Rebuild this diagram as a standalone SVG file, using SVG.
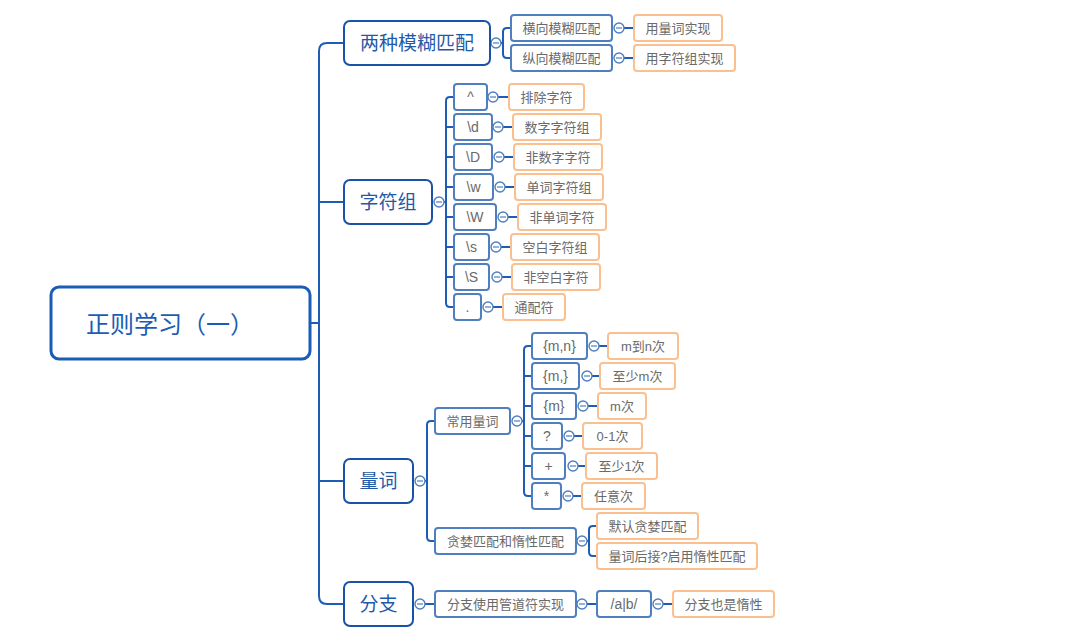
<svg xmlns="http://www.w3.org/2000/svg" width="1068" height="641" viewBox="0 0 1068 641">
<style>
text{font-family:"Liberation Sans","Noto Sans CJK SC",sans-serif;text-anchor:middle;dominant-baseline:central}
.root rect{fill:#fff;stroke:#1a5db5;stroke-width:3}
.root text{font-size:24px;fill:#1a5db5;text-anchor:start}
.l1 rect{fill:#fff;stroke:#1a52a8;stroke-width:2}
.l1 text{font-size:19px;fill:#1f5aa8}
.l2 rect{fill:#fff;stroke:#4f7fbf;stroke-width:2}
.l2 text{font-size:13px;fill:#6a6a6a}
.l2 text.lat{font-size:14px}
.or rect{fill:#fff;stroke:#fbc08f;stroke-width:2}
.or text{font-size:13px;fill:#6a6a6a}
.con path{fill:none;stroke:#1e5db5;stroke-width:2}
</style>
<defs>
<g id="col"><circle r="5" fill="#fff" stroke="#4f7fbf" stroke-width="1.4"/><path d="M-3 0H3" stroke="#4f7fbf" stroke-width="1.2"/></g>
</defs>
<rect width="1068" height="641" fill="#fff"/>
<g class="con">
<path d="M310 323H319"/>
<path d="M344 43H327Q319 43 319 51V596Q319 604 327 604H344"/>
<path d="M319 202H344M319 481H344"/>
<path d="M501 43H503M511 28H507Q503 28 503 32V54Q503 58 507 58H511"/>
<path d="M624 28H634M624 58H634"/>
<path d="M444 202H446M454 97H450Q446 97 446 101V303Q446 307 450 307H454M446 127H454M446 157H454M446 187H454M446 217H454M446 247H454M446 277H454"/>
<path d="M498 97H509M503 127H513M504 157H514M505 187H515M508 217H518M501 247H511M502 277H512M493 307H503"/>
<path d="M425 481H427M435 421H431Q427 421 427 425V537Q427 541 431 541H435"/>
<path d="M522 421H524M532 346H528Q524 346 524 350V492Q524 496 528 496H532M524 376H532M524 406H532M524 436H532M524 466H532"/>
<path d="M599 346H608M592 376H600M588 406H598M574 436H583M578 466H586M573 496H582"/>
<path d="M587 541H589M597 526H593Q589 526 589 530V552Q589 556 593 556H597"/>
<path d="M425 604H435M587 604H597M663 604H673"/>
</g>
<g id="collapse-markers">
<use href="#col" x="496" y="43"/>
<use href="#col" x="619" y="28"/><use href="#col" x="619" y="58"/>
<use href="#col" x="439" y="202"/>
<use href="#col" x="493" y="97"/><use href="#col" x="498" y="127"/><use href="#col" x="499" y="157"/><use href="#col" x="500" y="187"/><use href="#col" x="503" y="217"/><use href="#col" x="496" y="247"/><use href="#col" x="497" y="277"/><use href="#col" x="488" y="307"/>
<use href="#col" x="420" y="481"/>
<use href="#col" x="517" y="421"/>
<use href="#col" x="594" y="346"/><use href="#col" x="587" y="376"/><use href="#col" x="583" y="406"/><use href="#col" x="569" y="436"/><use href="#col" x="573" y="466"/><use href="#col" x="568" y="496"/>
<use href="#col" x="582" y="541"/>
<use href="#col" x="420" y="604"/><use href="#col" x="582" y="604"/><use href="#col" x="658" y="604"/>
</g>
<g id="root" class="root"><rect x="51" y="287" width="259" height="72" rx="8"/><text x="86" y="324">正则学习（一）</text></g>
<g id="n-fuzzy" class="l1"><rect x="344" y="21" width="146" height="44" rx="6"/><text x="417" y="43">两种模糊匹配</text></g>
<g id="n-charset" class="l1"><rect x="344" y="180" width="88" height="44" rx="6"/><text x="388" y="202">字符组</text></g>
<g id="n-quant" class="l1"><rect x="344" y="459" width="69" height="44" rx="6"/><text x="378.5" y="481">量词</text></g>
<g id="n-branch" class="l1"><rect x="344" y="582" width="69" height="44" rx="6"/><text x="378.5" y="604">分支</text></g>

<g id="n-h" class="l2"><rect x="511" y="15" width="101" height="26" rx="3"/><text x="561.5" y="28">横向模糊匹配</text></g>
<g id="n-v" class="l2"><rect x="511" y="45" width="101" height="26" rx="3"/><text x="561.5" y="58">纵向模糊匹配</text></g>
<g id="o-h" class="or"><rect x="634" y="15" width="88" height="26" rx="3"/><text x="678" y="28">用量词实现</text></g>
<g id="o-v" class="or"><rect x="634" y="45" width="101" height="26" rx="3"/><text x="684.5" y="58">用字符组实现</text></g>

<g id="c1" class="l2"><rect x="454" y="84" width="33" height="26" rx="3"/><text class="lat" x="470.5" y="97">^</text></g>
<g id="c2" class="l2"><rect x="454" y="114" width="38" height="26" rx="3"/><text class="lat" x="473" y="127">\d</text></g>
<g id="c3" class="l2"><rect x="454" y="144" width="38" height="26" rx="3"/><text class="lat" x="473" y="157">\D</text></g>
<g id="c4" class="l2"><rect x="454" y="174" width="39" height="26" rx="3"/><text class="lat" x="473.5" y="187">\w</text></g>
<g id="c5" class="l2"><rect x="454" y="204" width="42" height="26" rx="3"/><text class="lat" x="475" y="217">\W</text></g>
<g id="c6" class="l2"><rect x="454" y="234" width="35" height="26" rx="3"/><text class="lat" x="471.5" y="247">\s</text></g>
<g id="c7" class="l2"><rect x="454" y="264" width="35" height="26" rx="3"/><text class="lat" x="471.5" y="277">\S</text></g>
<g id="c8" class="l2"><rect x="454" y="294" width="27" height="26" rx="3"/><text class="lat" x="467.5" y="307">.</text></g>
<g id="co1" class="or"><rect x="509" y="84" width="75" height="26" rx="3"/><text x="546.5" y="97">排除字符</text></g>
<g id="co2" class="or"><rect x="513" y="114" width="88" height="26" rx="3"/><text x="557" y="127">数字字符组</text></g>
<g id="co3" class="or"><rect x="514" y="144" width="88" height="26" rx="3"/><text x="558" y="157">非数字字符</text></g>
<g id="co4" class="or"><rect x="515" y="174" width="88" height="26" rx="3"/><text x="559" y="187">单词字符组</text></g>
<g id="co5" class="or"><rect x="518" y="204" width="88" height="26" rx="3"/><text x="562" y="217">非单词字符</text></g>
<g id="co6" class="or"><rect x="511" y="234" width="88" height="26" rx="3"/><text x="555" y="247">空白字符组</text></g>
<g id="co7" class="or"><rect x="512" y="264" width="88" height="26" rx="3"/><text x="556" y="277">非空白字符</text></g>
<g id="co8" class="or"><rect x="503" y="294" width="62" height="26" rx="3"/><text x="534" y="307">通配符</text></g>

<g id="q-common" class="l2"><rect x="435" y="408" width="75" height="26" rx="3"/><text x="472.5" y="421">常用量词</text></g>
<g id="q1" class="l2"><rect x="532" y="333" width="55" height="26" rx="3"/><text class="lat" x="559.5" y="346">{m,n}</text></g>
<g id="q2" class="l2"><rect x="532" y="363" width="47" height="26" rx="3"/><text class="lat" x="555.5" y="376">{m,}</text></g>
<g id="q3" class="l2"><rect x="532" y="393" width="44" height="26" rx="3"/><text class="lat" x="554" y="406">{m}</text></g>
<g id="q4" class="l2"><rect x="532" y="423" width="30" height="26" rx="3"/><text class="lat" x="547" y="436">?</text></g>
<g id="q5" class="l2"><rect x="532" y="453" width="33" height="26" rx="3"/><text class="lat" x="548.5" y="466">+</text></g>
<g id="q6" class="l2"><rect x="532" y="483" width="29" height="26" rx="3"/><text class="lat" x="546.5" y="496">*</text></g>
<g id="qo1" class="or"><rect x="608" y="333" width="70" height="26" rx="3"/><text x="643" y="346">m到n次</text></g>
<g id="qo2" class="or"><rect x="600" y="363" width="75" height="26" rx="3"/><text x="637.5" y="376">至少m次</text></g>
<g id="qo3" class="or"><rect x="598" y="393" width="48" height="26" rx="3"/><text x="622" y="406">m次</text></g>
<g id="qo4" class="or"><rect x="583" y="423" width="59" height="26" rx="3"/><text x="612.5" y="436">0-1次</text></g>
<g id="qo5" class="or"><rect x="586" y="453" width="71" height="26" rx="3"/><text x="621.5" y="466">至少1次</text></g>
<g id="qo6" class="or"><rect x="582" y="483" width="63" height="26" rx="3"/><text x="613.5" y="496">任意次</text></g>
<g id="q-greedy" class="l2"><rect x="435" y="528" width="141" height="26" rx="3"/><text x="505.5" y="541">贪婪匹配和惰性匹配</text></g>
<g id="g1" class="or"><rect x="597" y="513" width="101" height="26" rx="3"/><text x="647.5" y="526">默认贪婪匹配</text></g>
<g id="g2" class="or"><rect x="597" y="543" width="160" height="26" rx="3"/><text x="677" y="556">量词后接?启用惰性匹配</text></g>

<g id="b1" class="l2"><rect x="435" y="591" width="141" height="26" rx="3"/><text x="505.5" y="604">分支使用管道符实现</text></g>
<g id="b2" class="l2"><rect x="597" y="591" width="54" height="26" rx="3"/><text class="lat" x="624" y="604">/a|b/</text></g>
<g id="b3" class="or"><rect x="673" y="591" width="101" height="26" rx="3"/><text x="723.5" y="604">分支也是惰性</text></g>
</svg>
